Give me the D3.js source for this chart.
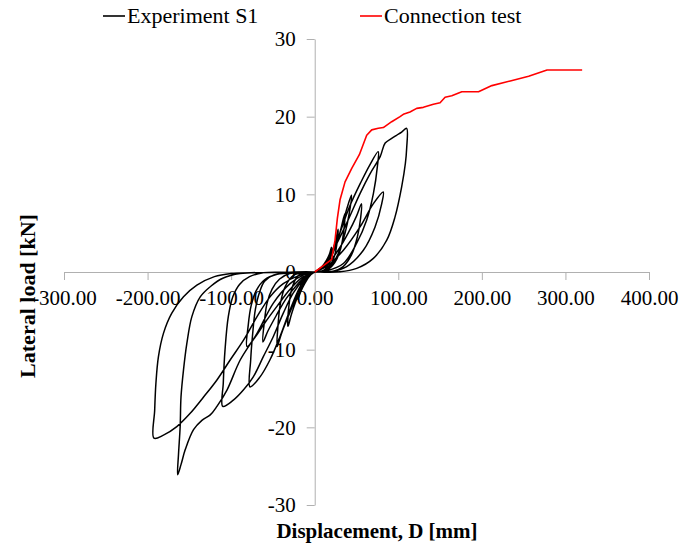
<!DOCTYPE html>
<html>
<head>
<meta charset="utf-8">
<script src="https://cdn.jsdelivr.net/npm/d3@7"></script>
<style>
  html, body { margin: 0; padding: 0; background: #fff; }
  svg { display: block; }
  text { font-family: "Times New Roman", "Liberation Serif", serif; fill: #000; }
</style>
</head>
<body>
<svg id="chart" width="680" height="544"></svg>
<script>
// Cyclic test of specimen S1: displacement [mm] and lateral load [kN], cycle by cycle
const s1Displacement = [
  0, 8, 14, 18, 20, 19.5, 17, 12, 6, 0,
  -6, -12, -17, -20, -17, -12, -6, 0,
  10, 18, 24, 28, 27, 24, 18, 10, 0,
  -10, -20, -27, -31, -32, -28, -22, -14, -6, 0,
  12, 22, 30, 36, 35, 31, 24, 14, 0,
  -12, -25, -35, -41, -44, -45, -40, -32, -22, -12, -5, 0,
  12, 22, 30, 38, 44, 41.4, 36.3, 28.3, 18, 8, 0,
  -15, -30, -42, -51, -57, -60, -62, -56, -46, -34, -20, -8, 0,
  15, 28, 40, 50, 56, 55, 51, 44, 34, 20, 0,
  -20, -35, -49.5, -60, -66, -71, -74.2, -76.6, -77.4, -65.4, -53.5, -41.5, -29.6, -17.6, -8, 0,
  10, 20, 30, 42, 55, 66, 76, 75, 70.2, 62.2, 50.2, 34.3, 14.4, 0,
  -25, -45, -60, -70, -76, -79.5, -81, -72, -60, -45, -30, -15, 0,
  15, 34.3, 54.2, 70.2, 82, 80.2, 72.2, 58.2, 38.3, 20, 0,
  -30, -61.5, -78, -90, -98, -103.4, -107.3, -109.4, -110, -97.4, -85.4, -73.5, -61.5, -49.5, -37.6, -25.6, -13.6, -5, 0,
  10, 22.3, 38.3, 54.2, 66, 78.3, 84.3, 92.1, 98, 104, 110, 110, 108.5, 104.1, 96.1, 86.2, 70.2, 50.2, 30.3, 0,
  -40, -89.3, -110, -124, -137, -147, -153, -157, -160, -161, -163, -164, -160, -155, -145, -135, -125, -117, -105, -89, -69, -49.5, -29.5, -12, 0,
  -40, -77, -100, -120, -141, -157, -171, -181, -187, -190, -191.5, -192.3, -181, -165, -149, -133, -117, -101, -85, -69, -53.5, -37.6, -17.6, 0
];
const s1Load = [
  0, 0.6, 1.5, 2.4, 3.2, 2.2, 1.1, 0.3, 0.05, 0,
  -0.1, -0.6, -1.8, -3.5, -2.6, -1.5, -0.5, 0,
  0.8, 2.0, 3.6, 5.5, 4.0, 2.2, 0.8, 0.1, 0,
  -0.05, -0.5, -2.0, -4.5, -7.0, -5.5, -3.6, -1.6, -0.4, 0,
  0.9, 2.6, 5.0, 7.5, 5.5, 3.0, 1.2, 0.2, 0,
  -0.05, -0.4, -1.8, -4.0, -7.0, -9.6, -8.0, -5.8, -3.3, -1.3, -0.3, 0,
  0.9, 2.5, 5.0, 8.0, 9.9, 7.6, 5.0, 2.4, 0.6, 0.05, 0,
  -0.05, -0.2, -0.9, -2.2, -4.0, -6.2, -9.0, -7.6, -5.6, -3.4, -1.5, -0.3, 0,
  1.0, 2.8, 5.0, 7.2, 8.8, 7.0, 4.5, 2.2, 0.7, 0.05, 0,
  -0.05, -0.15, -0.4, -1.2, -2.6, -4.8, -7.9, -11.3, -14.8, -13.5, -11.3, -8.3, -4.9, -1.9, -0.4, 0,
  0.7, 2.3, 5.0, 8.5, 11.5, 13.8, 15.5, 13.6, 10.1, 6.7, 3.7, 1.1, 0.17, 0,
  -0.05, -0.3, -1.0, -2.4, -4.3, -6.8, -9.6, -8.5, -6.6, -4.4, -2.3, -0.7, 0,
  0.8, 2.8, 5.8, 8.8, 10.3, 8.8, 5.8, 2.8, 0.7, 0.05, 0,
  -0.05, -0.1, -0.6, -1.6, -3.2, -5.75, -10, -14.3, -17.3, -16.5, -15.2, -13.5, -10.9, -8.3, -5.3, -2.7, -1.0, -0.2, 0,
  0.6, 2.8, 6.3, 10.1, 12.6, 14.85, 16.6, 17.2, 17.6, 18.0, 18.5, 15.9, 14.0, 11.0, 7.1, 4.1, 1.76, 0.47, 0.03, 0,
  -0.05, -0.2, -0.8, -1.8, -3.2, -5.75, -9.2, -12.6, -16.1, -19.9, -23.5, -26.1, -24.8, -22.9, -20.3, -19.1, -18.4, -17.3, -15.2, -11.3, -7.9, -4.0, -1.5, -0.3, 0,
  -0.05, -0.1, -0.2, -0.6, -1.7, -3.2, -5.3, -7.9, -10.9, -14.3, -17.8, -21.4, -21.0, -19.9, -18.2, -16.1, -13.9, -11.3, -8.75, -5.75, -3.2, -1.5, -0.4, 0
];

// Monotonic connection test
const connDisplacement = [0, 10, 20.3, 24.3, 27.1, 30.3, 36.3, 44.3, 53.4, 62.2, 68.2, 76.1, 82.1, 92.1, 102.1, 106, 114, 122, 130, 142, 150, 156, 164, 176, 196, 212, 234, 256, 278, 320];
const connLoad = [0, 0.8, 1.63, 4.1, 6.9, 9.3, 11.6, 13.35, 15.1, 17.6, 18.3, 18.5, 18.6, 19.35, 20.0, 20.3, 20.6, 21.07, 21.2, 21.6, 21.8, 22.5, 22.7, 23.2, 23.2, 24.0, 24.6, 25.2, 26.0, 26.0];

const xTicks = [-300, -200, -100, 0, 100, 200, 300, 400];
const yTicks = [-30, -20, -10, 0, 10, 20, 30];
const seriesNames = ["Experiment S1", "Connection test"];
const seriesColors = ["#000000", "#ff0000"];

const svg = d3.select("#chart");

const x = d3.scaleLinear().domain([-300, 400]).range([64, 649]);
const y = d3.scaleLinear().domain([-30, 30]).range([505, 39]);

const axisColor = "#b0b0b0";

// x axis through zero load
const gx = svg.append("g")
  .attr("transform", `translate(0,${y(0)})`)
  .call(d3.axisBottom(x).tickValues(xTicks).tickSize(8).tickSizeOuter(0).tickFormat(d => d.toFixed(2)));
gx.selectAll("text").attr("y", 33).attr("dy", null).style("font-size", "21px");

// y axis through zero displacement
const gy = svg.append("g")
  .attr("transform", `translate(${x(0)},0)`)
  .call(d3.axisLeft(y).tickValues(yTicks).tickSize(8).tickSizeOuter(0).tickFormat(d => String(d)));
gy.selectAll("text").attr("x", -19).attr("dy", "0.33em").style("font-size", "21px");

svg.selectAll(".domain, .tick line").attr("stroke", axisColor).attr("stroke-width", 1);

// series
const s1 = s1Displacement.map((d, i) => [d, s1Load[i]]);
const conn = connDisplacement.map((d, i) => [d, connLoad[i]]);

const smoothLine = d3.line().x(d => x(d[0])).y(d => y(d[1])).curve(d3.curveCatmullRom.alpha(0.5));
const straightLine = d3.line().x(d => x(d[0])).y(d => y(d[1]));

svg.append("path").datum(s1)
  .attr("d", smoothLine).attr("fill", "none")
  .attr("stroke", seriesColors[0]).attr("stroke-width", 1.5).attr("stroke-linejoin", "round");

svg.append("path").datum(conn)
  .attr("d", straightLine).attr("fill", "none")
  .attr("stroke", seriesColors[1]).attr("stroke-width", 1.6).attr("stroke-linejoin", "round");

// legend
const legendX = [103, 360];
seriesNames.forEach((name, i) => {
  const g = svg.append("g").attr("transform", `translate(${legendX[i]},0)`);
  g.append("line").attr("x1", 0).attr("x2", 22).attr("y1", 16).attr("y2", 16)
    .attr("stroke", seriesColors[i]).attr("stroke-width", 1.6);
  g.append("text").attr("x", 24).attr("y", 23).style("font-size", "22px").text(name);
});

// axis titles
svg.append("text")
  .attr("x", 377).attr("y", 538)
  .attr("text-anchor", "middle")
  .style("font-size", "21px").style("font-weight", "bold")
  .text("Displacement, D [mm]");

svg.append("text")
  .attr("transform", "translate(35,296) rotate(-90)")
  .attr("text-anchor", "middle")
  .style("font-size", "22px").style("font-weight", "bold")
  .text("Lateral load [kN]");
</script>
</body>
</html>
